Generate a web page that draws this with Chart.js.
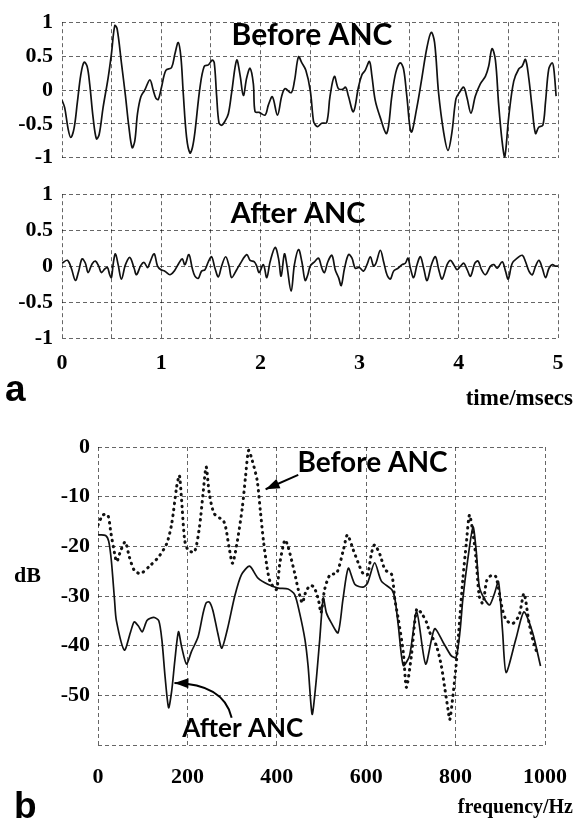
<!DOCTYPE html>
<html>
<head>
<meta charset="utf-8">
<script src="https://cdn.jsdelivr.net/npm/chart.js@4.4.1/dist/chart.umd.min.js"></script>
<style>
  body { margin: 0; background: #fff; }
  #wrap { position: relative; width: 586px; height: 824px; overflow: hidden; }
  canvas { position: absolute; left: 0; }
</style>
</head>
<body>
<div id="wrap">
  <canvas id="before" width="586" height="180" style="top:0px"></canvas>
  <canvas id="after" width="586" height="248" style="top:172px"></canvas>
  <canvas id="spec" width="586" height="404" style="top:420px"></canvas>
</div>
<script>
// panel a, time signal before ANC (ms, amplitude)
const tBefore = [0, 0.027, 0.061, 0.088, 0.121, 0.155, 0.189, 0.222, 0.253, 0.279, 0.313, 0.347, 0.374, 0.414, 0.465, 0.498, 0.532, 0.556,
  0.599, 0.640, 0.673, 0.707, 0.734, 0.761, 0.795, 0.835, 0.886, 0.919, 0.946, 0.970, 1.003, 1.047, 1.104, 1.138, 1.172, 1.199,
  1.222, 1.256, 1.290, 1.316, 1.340, 1.391, 1.434, 1.475, 1.515, 1.535, 1.559, 1.582, 1.609, 1.643, 1.677, 1.710, 1.761, 1.795,
  1.828, 1.862, 1.896, 1.929, 1.946, 1.987, 2.047, 2.081, 2.121, 2.172, 2.215, 2.249, 2.310, 2.343, 2.384, 2.418, 2.458, 2.502,
  2.535, 2.551, 2.577, 2.618, 2.668, 2.702, 2.746, 2.786, 2.827, 2.860, 2.887, 2.938, 2.988, 3.022, 3.056, 3.099, 3.123, 3.157,
  3.207, 3.274, 3.325, 3.365, 3.409, 3.443, 3.476, 3.520, 3.577, 3.628, 3.678, 3.722, 3.756, 3.796, 3.847, 3.891, 3.931, 3.971,
  4.005, 4.049, 4.082, 4.123, 4.167, 4.217, 4.268, 4.301, 4.335, 4.369, 4.402, 4.436, 4.463, 4.503, 4.554, 4.604, 4.638, 4.672,
  4.705, 4.739, 4.773, 4.806, 4.847, 4.874, 4.907, 4.941, 4.958, 4.981];
const vBefore = [-0.15, -0.26, -0.57, -0.70, -0.57, -0.18, 0.22, 0.41, 0.35, 0.09, -0.40, -0.72, -0.66, -0.26, 0.18, 0.53, 0.95, 0.90,
  0.40, -0.09, -0.53, -0.85, -0.75, -0.35, -0.10, 0.0, 0.15, 0.0, -0.12, -0.14, 0.04, 0.29, 0.33, 0.53, 0.70, 0.48,
  -0.04, -0.70, -0.93, -0.84, -0.62, 0.04, 0.35, 0.37, 0.44, 0.40, -0.09, -0.48, -0.52, -0.46, -0.35, -0.04, 0.44, 0.22,
  -0.08, 0.18, 0.32, 0.09, -0.32, -0.33, -0.37, -0.22, -0.10, -0.37, -0.09, 0.02, -0.04, 0.13, 0.49, 0.40, 0.29, 0.0,
  -0.46, -0.51, -0.54, -0.49, -0.48, -0.09, 0.20, 0.02, 0.01, 0.04, -0.09, -0.32, 0.04, 0.22, 0.29, 0.42, 0.22, -0.15,
  -0.40, -0.64, -0.09, 0.26, 0.40, 0.31, -0.09, -0.62, -0.26, 0.18, 0.62, 0.85, 0.70, -0.04, -0.62, -0.89, -0.62, -0.13,
  -0.04, 0.04, -0.11, -0.34, -0.09, 0.09, 0.20, 0.35, 0.61, 0.44, -0.22, -0.75, -0.99, -0.40, 0.13, 0.31, 0.35, 0.45,
  0.18, -0.26, -0.64, -0.55, -0.52, -0.18, 0.31, 0.40, 0.31, -0.09];

// panel a, time signal after ANC
const tAfter = [0, 0.054, 0.094, 0.135, 0.168, 0.202, 0.236, 0.263, 0.303, 0.337, 0.370, 0.397, 0.431, 0.458, 0.481, 0.498, 0.519, 0.539,
  0.566, 0.599, 0.640, 0.684, 0.727, 0.751, 0.795, 0.828, 0.862, 0.886, 0.929, 0.963, 0.997, 1.037, 1.088, 1.131, 1.178, 1.212,
  1.239, 1.279, 1.313, 1.340, 1.374, 1.407, 1.441, 1.475, 1.508, 1.542, 1.576, 1.609, 1.650, 1.684, 1.710, 1.761, 1.795, 1.862,
  1.896, 1.939, 1.963, 1.987, 2.030, 2.064, 2.098, 2.148, 2.182, 2.209, 2.242, 2.266, 2.310, 2.343, 2.384, 2.418, 2.451, 2.478,
  2.502, 2.545, 2.586, 2.620, 2.646, 2.680, 2.721, 2.754, 2.788, 2.815, 2.848, 2.889, 2.923, 2.956, 2.997, 3.040, 3.074, 3.108,
  3.141, 3.165, 3.209, 3.242, 3.276, 3.310, 3.343, 3.387, 3.428, 3.461, 3.488, 3.512, 3.545, 3.579, 3.613, 3.646, 3.680, 3.724,
  3.764, 3.798, 3.832, 3.882, 3.916, 3.949, 3.983, 4.017, 4.051, 4.084, 4.118, 4.162, 4.195, 4.229, 4.269, 4.320, 4.354, 4.387,
  4.438, 4.471, 4.498, 4.539, 4.589, 4.640, 4.673, 4.707, 4.741, 4.774, 4.808, 4.842, 4.875, 4.909, 4.943, 4.976, 5.0];
const vAfter = [0.04, 0.08, -0.03, -0.20, -0.07, 0.10, 0.04, -0.09, 0.03, 0.07, 0.00, -0.09, -0.04, -0.02, -0.12, -0.16, 0.06, 0.17,
  0.02, -0.18, 0.02, 0.12, -0.03, -0.12, 0.01, 0.05, -0.02, 0.05, 0.17, 0.00, -0.05, -0.07, -0.12, -0.07, 0.04, 0.10,
  0.02, 0.16, -0.03, -0.14, -0.17, -0.07, -0.05, 0.06, 0.13, -0.03, -0.15, 0.00, 0.13, 0.00, -0.16, -0.05, 0.03, 0.16,
  0.08, 0.06, 0.00, -0.09, 0.02, -0.16, 0.06, 0.26, 0.11, -0.14, 0.17, 0.02, -0.35, 0.02, 0.23, 0.06, -0.20, -0.12,
  0.00, 0.06, 0.11, -0.03, -0.09, 0.06, 0.15, -0.05, -0.16, -0.27, -0.03, 0.16, 0.11, -0.03, -0.02, -0.07, 0.02, 0.13,
  0.00, 0.04, 0.22, 0.06, -0.12, -0.18, -0.07, -0.03, 0.02, 0.04, 0.11, -0.03, -0.16, 0.02, 0.13, -0.03, -0.20, 0.02,
  0.13, -0.05, -0.18, 0.02, 0.08, 0.02, -0.05, 0.00, 0.04, -0.05, -0.14, 0.04, 0.07, -0.05, -0.12, 0.00, 0.02, -0.03,
  0.06, -0.07, -0.18, 0.04, 0.11, 0.15, 0.06, -0.07, -0.12, 0.00, 0.08, -0.03, -0.16, -0.03, 0.02, 0.00, 0.00];

// panel b, spectrum after ANC (solid)
const fAfter = [0, 17, 24, 30, 37, 41, 59, 73, 81, 90, 99, 110, 125, 136, 143, 150, 158, 165, 172, 180, 187, 198, 209, 224, 235, 242,
  249, 257, 268, 277, 290, 306, 321, 339, 358, 381, 403, 425, 440, 451, 463, 470, 479, 487, 496, 504, 511, 522, 537, 548, 560,
  575, 593, 603, 619, 634, 657, 664, 672, 683, 697, 713, 733, 753, 772, 790, 801, 810, 816, 827, 839, 846, 853, 864, 876, 887,
  896, 905, 913, 935, 953, 972, 990];
const dbAfter = [-17.7, -17.8, -19, -23, -30.8, -34.9, -40.9, -37.2, -35.2, -36, -37.2, -34.9, -34.3, -35, -38.9, -46.2, -52.5, -49,
  -42.9, -37.2, -40.2, -43.7, -41.2, -38.2, -33.5, -31.4, -31.2, -32.9, -37.5, -40.5, -36.5, -30, -25.7, -24, -26.4, -27.7, -28.4,
  -28.6, -29.7, -33.4, -38.8, -44.1, -53.8, -48.1, -38.8, -30.4, -33.4, -35.4, -37.4, -30.7, -24.4, -27.7, -28.2, -27.4, -23.3,
  -27.0, -28.7, -30.4, -36.1, -44, -42, -33.2, -43.7, -36.6, -39.3, -42, -42.4, -37, -30.8, -22.8, -16.1, -20.8, -28.1, -30.5,
  -31.8, -29.5, -27.1, -37, -45.4, -38.6, -33.2, -37.3, -44.1];

// panel b, spectrum before ANC (dotted)
const fBefore = [0, 11, 22, 29, 37, 42, 51, 61, 70, 81, 95, 114, 136, 154, 165, 176, 182, 187, 194, 202, 216, 227, 235, 242, 249, 260,
  282, 293, 301, 312, 323, 330, 337, 345, 356, 363, 370, 378, 385, 399, 407, 418, 425, 440, 448, 457, 464, 474, 483, 493, 499,
  507, 519, 534, 549, 558, 571, 582, 593, 603, 612, 619, 631, 642, 657, 664, 672, 683, 690, 701, 713, 724, 735, 742, 757, 768,
  775, 783, 787, 794, 801, 807, 816, 824, 831, 839, 846, 853, 861, 870, 881, 890, 898, 905, 913, 927, 942, 953, 964, 972, 983];
const dbBefore = [-15.7, -13.7, -13.7, -17.4, -21.4, -23.1, -20.8, -19.1, -22.1, -24.8, -25.5, -24.1, -22.1, -19.4, -15.4, -8, -5.7,
  -10.7, -18.8, -20.8, -21.1, -16.1, -9.4, -4, -9.4, -13.4, -15.1, -20.1, -23.4, -18.8, -12.1, -6, -0.7, -2.7, -6.7, -12.7, -18.8,
  -24.1, -27.1, -28.7, -23.3, -18.7, -20, -25.4, -28.7, -31.4, -29.4, -27.9, -28.2, -30.7, -33.4, -28.7, -25.7, -25.4, -20.7,
  -17.7, -20.7, -23.3, -25.5, -25.7, -21.3, -19.7, -21.7, -24.7, -25.7, -30.7, -34.7, -41.4, -48.4, -42.1, -32.6, -33.5, -35.3,
  -37.3, -40, -44, -48.1, -52.8, -54.9, -50.1, -44.1, -37.3, -26.8, -19.4, -13.7, -17.4, -22.8, -30.1, -31.5, -26.8, -25.8, -26.1,
  -29.5, -32.8, -34.8, -35.6, -33.9, -29.5, -35.3, -38.6, -41.7];

const pts = (xs, ys) => xs.map((x, i) => ({ x: x, y: ys[i] }));

const serif = "'Liberation Serif', 'Times New Roman', serif";
const sans = "Lato, 'DejaVu Sans', sans-serif";
const gridColor = 'rgba(0,0,0,0.6)';

// draws the text notes and arrows; positions in data units unless px is set
const notesPlugin = {
  id: 'notes',
  afterDraw(chart, args, opts) {
    const ctx = chart.ctx;
    const xs = chart.scales.x, ys = chart.scales.y;
    const toPx = (p) => opts.px ? p : [xs.getPixelForValue(p[0]), ys.getPixelForValue(p[1])];
    ctx.save();
    (opts.items || []).forEach((it) => {
      ctx.fillStyle = '#000';
      ctx.strokeStyle = '#000';
      if (it.text) {
        const p = it.px ? it.at : toPx(it.at);
        ctx.font = it.font;
        ctx.textAlign = it.align || 'center';
        ctx.textBaseline = 'alphabetic';
        ctx.fillText(it.text, p[0], p[1]);
      } else if (it.arrow) {
        const a = toPx(it.arrow[0]);
        const c = it.arrow.length > 2 ? toPx(it.arrow[1]) : null;
        const b = toPx(it.arrow[it.arrow.length - 1]);
        ctx.lineWidth = 2;
        ctx.beginPath();
        ctx.moveTo(a[0], a[1]);
        if (c) ctx.quadraticCurveTo(c[0], c[1], b[0], b[1]);
        else ctx.lineTo(b[0], b[1]);
        ctx.stroke();
        const from = c || a;
        const ang = Math.atan2(b[1] - from[1], b[0] - from[0]);
        const len = 14, half = 5;
        ctx.beginPath();
        ctx.moveTo(b[0], b[1]);
        ctx.lineTo(b[0] - len * Math.cos(ang) + half * Math.sin(ang), b[1] - len * Math.sin(ang) - half * Math.cos(ang));
        ctx.lineTo(b[0] - len * Math.cos(ang) - half * Math.sin(ang), b[1] - len * Math.sin(ang) + half * Math.cos(ang));
        ctx.closePath();
        ctx.fill();
      }
    });
    ctx.restore();
  }
};

function gridOpts() {
  return { color: gridColor, lineWidth: 1, drawTicks: false };
}

const tickFont = { family: serif, size: 22, weight: 'bold' };

function timeChart(id, data, padding, xHeight, showX, notes) {
  return new Chart(document.getElementById(id), {
    type: 'line',
    data: {
      datasets: [{
        data: data,
        borderColor: '#111',
        borderWidth: 1.7,
        pointRadius: 0,
        tension: 0.35,
        fill: false
      }]
    },
    options: {
      responsive: false,
      animation: false,
      layout: { padding: padding },
      plugins: { legend: { display: false }, tooltip: { enabled: false }, notes: { items: notes } },
      scales: {
        x: {
          type: 'linear', min: 0, max: 5,
          grid: gridOpts(),
          border: { display: false, dash: [4, 3] },
          afterFit: (s) => { s.height = xHeight; },
          ticks: {
            display: showX, stepSize: 0.5, padding: 12, color: '#000', maxRotation: 0,
            font: tickFont,
            callback: (v) => Number.isInteger(v) ? String(v) : ''
          }
        },
        y: {
          min: -1, max: 1,
          grid: gridOpts(),
          border: { display: false, dash: [4, 3] },
          afterFit: (s) => { s.width = 62; },
          ticks: {
            stepSize: 0.5, padding: 9, color: '#000',
            font: tickFont,
            callback: (v) => String(v)
          }
        }
      }
    },
    plugins: [notesPlugin]
  });
}

timeChart('before', pts(tBefore, vBefore), { top: 15, right: 28, bottom: 14, left: 0 }, 0, false, [
  { text: 'Before ANC', at: [2.52, 0.66], font: 'bold 30px ' + sans }
]);

timeChart('after', pts(tAfter, vAfter), { top: 16, right: 28, bottom: 0, left: 0 }, 82, true, [
  { text: 'After ANC', at: [2.38, 0.6], font: 'bold 29px ' + sans },
  { text: 'a', px: true, at: [5, 229], align: 'left', font: 'bold 37px ' + "'Liberation Sans', Arial, sans-serif" },
  { text: 'time/msecs', px: true, at: [573, 233], align: 'right', font: 'bold 23px ' + serif }
]);

new Chart(document.getElementById('spec'), {
  type: 'line',
  data: {
    datasets: [
      {
        label: 'Before ANC',
        data: pts(fBefore, dbBefore),
        borderColor: '#111',
        borderWidth: 3,
        borderDash: [0.5, 5.5],
        borderCapStyle: 'round',
        pointRadius: 0,
        tension: 0.25
      },
      {
        label: 'After ANC',
        data: pts(fAfter, dbAfter),
        borderColor: '#111',
        borderWidth: 1.7,
        pointRadius: 0,
        tension: 0.25
      }
    ]
  },
  options: {
    responsive: false,
    animation: false,
    layout: { padding: { top: 27, right: 37, bottom: 0, left: 0 } },
    plugins: {
      legend: { display: false },
      tooltip: { enabled: false },
      notes: {
        items: [
          { text: 'Before ANC', at: [614, -5.0], font: 'bold 28px ' + sans },
          { arrow: [[448, -5.6], [375, -8.5]] },
          { text: 'After ANC', at: [324, -58.4], font: 'bold 26px ' + sans },
          { arrow: [[299, -54.5], [282, -47.7], [171, -47.5]] },
          { text: 'dB', px: true, at: [14, 162], align: 'left', font: 'bold 22px ' + serif },
          { text: 'b', px: true, at: [14, 398], align: 'left', font: 'bold 37px ' + "'Liberation Sans', Arial, sans-serif" },
          { text: 'frequency/Hz', px: true, at: [573, 393], align: 'right', font: 'bold 20px ' + serif }
        ]
      }
    },
    scales: {
      x: {
        type: 'linear', min: 0, max: 1000,
        grid: gridOpts(),
        border: { display: false, dash: [4, 3] },
        afterFit: (s) => { s.height = 79; },
        ticks: {
          stepSize: 100, padding: 19, color: '#000', maxRotation: 0,
          font: tickFont,
          callback: (v) => v % 200 === 0 ? String(v) : ''
        }
      },
      y: {
        min: -60, max: 0,
        grid: gridOpts(),
        border: { display: false, dash: [4, 3] },
        afterFit: (s) => { s.width = 98; },
        ticks: {
          stepSize: 10, padding: 8, color: '#000',
          font: tickFont,
          callback: (v) => v === -60 ? '' : String(v)
        }
      }
    }
  },
  plugins: [notesPlugin]
});
</script>
</body>
</html>
